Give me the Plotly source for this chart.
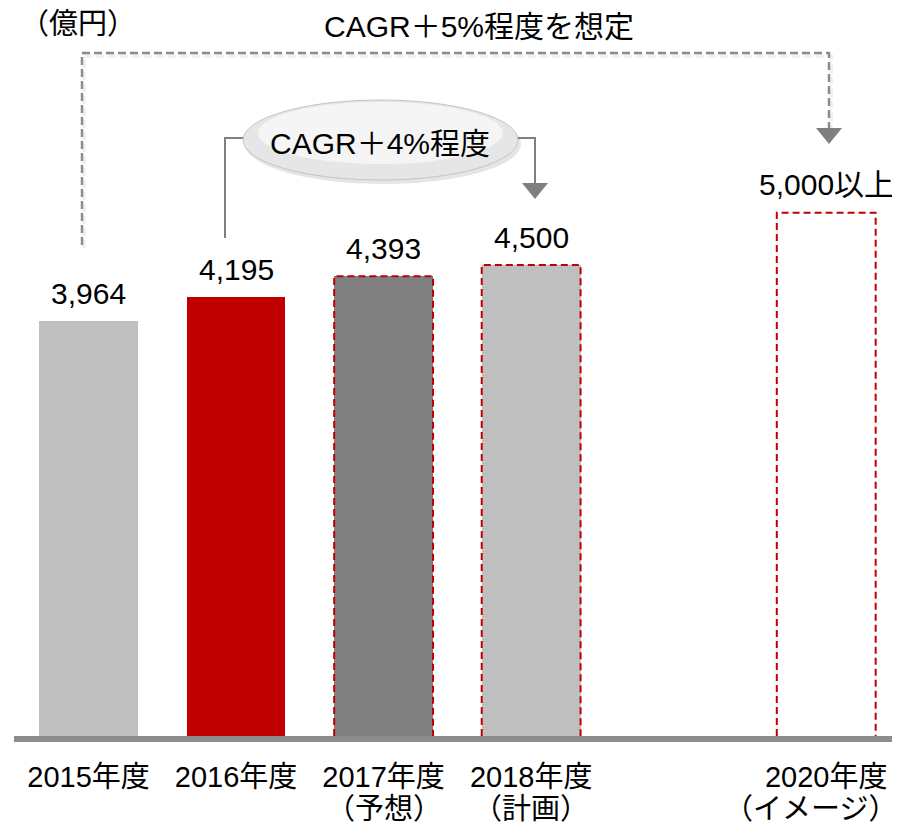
import plotly.graph_objects as go

# ---- data ----
fiscal_years = [2015, 2016, 2017, 2018, 2020]
year_labels = ["2015年度", "2016年度", "2017年度", "2018年度", "2020年度"]
sub_labels = ["", "", "（予想）", "（計画）", "（イメージ）"]
values = [3964, 4195, 4393, 4500, 5000]
value_suffix = ["", "", "", "", "以上"]
unit_label = "（億円）"
cagr_long = "CAGR＋5%程度を想定"
cagr_short = "CAGR＋4%程度"

# ---- styles ----
fill_colors = ["#BFBFBF", "#C00000", "#808080", "#BFBFBF", "rgba(0,0,0,0)"]
dashed_outline = [False, False, True, True, True]
BAR_W = 0.67
FONT = "Liberation Sans, Arial, Noto Sans CJK JP, sans-serif"
RED = "#C00000"
GRAY = "#808080"

OFF = 8  # page body margin
W, H = 900 - OFF, 836 - OFF
ML, MR, MT, MB = 14 - OFF, 0, 0, 100
XR = [2014.495, 2020.5]
YR = [0, 6957]
PW, PH = W - ML - MR, H - MT - MB


def X(px):
    return XR[0] + (px - OFF - ML) / PW * (XR[1] - XR[0])


def Y(py):
    return YR[0] + (MT + PH - (py - OFF)) / PH * (YR[1] - YR[0])


def YP(py):
    return (MT + PH - (py - OFF)) / PH


fig = go.Figure()
fig.add_trace(go.Bar(
    x=fiscal_years, y=values, width=BAR_W,
    marker=dict(color=fill_colors, line=dict(width=0)),
    hoverinfo="skip", showlegend=False,
))

# dashed red outlines
for fy, v, d in zip(fiscal_years, values, dashed_outline):
    if d:
        fig.add_trace(go.Scatter(
            x=[fy - BAR_W / 2, fy - BAR_W / 2, fy + BAR_W / 2, fy + BAR_W / 2],
            y=[0, v, v, 0], mode="lines",
            line=dict(color=RED, width=2, dash="7px,4px"),
            hoverinfo="skip", showlegend=False,
        ))

annotations = []
# value labels
for fy, v, s in zip(fiscal_years, values, value_suffix):
    annotations.append(dict(x=fy, y=v, text=f"{v:,}{s}", showarrow=False,
                            yanchor="middle", yshift=28,
                            font=dict(size=30, color="#000000", family=FONT)))
# second line of category labels
for i, (fy, s) in enumerate(zip(fiscal_years, sub_labels)):
    if s:
        last = i == len(fiscal_years) - 1
        annotations.append(dict(x=X(899) if last else fy, xref="x",
                                xanchor="right" if last else "center",
                                y=YP(809), yref="paper", text=s,
                                showarrow=False, yanchor="middle",
                                font=dict(size=29, color="#000000", family=FONT)))

annotations.append(dict(x=X(78), y=Y(24), text=unit_label, showarrow=False,
                        yanchor="middle", borderpad=0,
                        font=dict(size=29, color="#000000", family=FONT)))
annotations.append(dict(x=X(479), y=Y(26), text=cagr_long, showarrow=False,
                        yanchor="middle", font=dict(size=30, color="#000000", family=FONT)))
annotations.append(dict(x=X(380), y=Y(143), text=cagr_short, showarrow=False,
                        yanchor="middle", font=dict(size=30, color="#000000", family=FONT)))


def path(points):
    return "M " + " L ".join(f"{X(a)},{Y(b)}" for a, b in points)


shapes = []
# big dashed bracket (shadow + line)
br = [(82, 245), (82, 53), (829, 53), (829, 130)]
shapes.append(dict(type="path", path=path([(a + 2, b + 3) for a, b in br]),
                   xref="x", yref="y",
                   line=dict(color="rgba(0,0,0,0.06)", width=4, dash="8px,4px")))
shapes.append(dict(type="path", path=path(br), xref="x", yref="y",
                   line=dict(color="#8C8C8C", width=2.5, dash="8px,4px")))
shapes.append(dict(type="path", path=path([(816, 128), (842, 128), (829, 144)]) + " Z",
                   xref="x", yref="y", fillcolor="#7F7F7F", line=dict(width=0)))

# small connector
shapes.append(dict(type="path", path=path([(225, 238), (225, 138), (250, 138)]),
                   xref="x", yref="y", line=dict(color=GRAY, width=2)))
shapes.append(dict(type="path", path=path([(511, 138), (535, 138), (535, 185)]),
                   xref="x", yref="y", line=dict(color=GRAY, width=2)))
shapes.append(dict(type="path", path=path([(522, 183), (548, 183), (535, 199)]) + " Z",
                   xref="x", yref="y", fillcolor="#7F7F7F", line=dict(width=0)))
# ellipse shadow + ellipse
shapes.append(dict(type="circle", xref="x", yref="y",
                   x0=X(245), x1=X(521), y0=Y(104), y1=Y(184),
                   fillcolor="rgba(0,0,0,0.10)", line=dict(width=0)))
shapes.append(dict(type="circle", xref="x", yref="y",
                   x0=X(243), x1=X(518), y0=Y(100), y1=Y(180),
                   fillcolor="#E6E6E6", line=dict(color="#C4C4C4", width=1)))
shapes.append(dict(type="circle", xref="x", yref="y",
                   x0=X(258), x1=X(503), y0=Y(102), y1=Y(164),
                   fillcolor="rgba(255,255,255,0.6)", line=dict(width=0)))

fig.update_layout(
    width=W, height=H,
    margin=dict(l=ML, r=MR, t=MT, b=MB, pad=0),
    paper_bgcolor="white", plot_bgcolor="white",
    showlegend=False,
    bargap=0,
    annotations=annotations,
    shapes=shapes,
    font=dict(family=FONT, size=29, color="#000000"),
    xaxis=dict(range=XR, tickmode="array", tickvals=fiscal_years, ticktext=year_labels,
               showgrid=False, zeroline=False, showline=True, linecolor="#8C8C8C",
               linewidth=6, ticks="", ticklabelstandoff=10,
               tickfont=dict(size=29, color="#000000", family=FONT),
               fixedrange=True),
    yaxis=dict(range=YR, visible=False, showgrid=False, zeroline=False, fixedrange=True),
)

fig.write_html("out.html")
